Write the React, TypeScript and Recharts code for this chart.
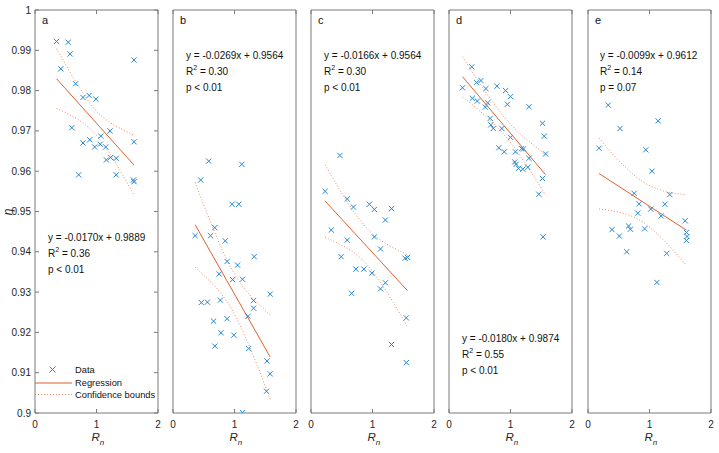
import React from 'react';
import { ComposedChart, Scatter, Line, XAxis, YAxis, ReferenceArea } from 'recharts';

// ---------- data ----------
const xTicks = [0, 1, 2];
const yTicks = [0.9, 0.91, 0.92, 0.93, 0.94, 0.95, 0.96, 0.97, 0.98, 0.99, 1];
const panelLetters = ['a', 'b', 'c', 'd', 'e'];

const ptsA: [number, number][] = [
  [0.35, 0.9922], [0.54, 0.992], [0.57, 0.9891], [0.42, 0.9854], [0.66, 0.9817],
  [0.78, 0.9783], [0.88, 0.9788], [0.99, 0.9779], [1.61, 0.9876], [0.6, 0.9708],
  [1.22, 0.97], [1.07, 0.9687], [0.78, 0.967], [0.89, 0.9678], [0.97, 0.966],
  [1.06, 0.9667], [1.15, 0.966], [1.16, 0.9628], [1.23, 0.9634], [1.32, 0.9632],
  [1.61, 0.9673], [0.71, 0.9591], [1.32, 0.9591], [1.6, 0.9578], [1.61, 0.9574],
];
const ptsB: [number, number][] = [
  [0.58, 0.9625], [1.12, 0.9617], [0.45, 0.9578], [0.96, 0.9518], [1.07, 0.9518],
  [0.68, 0.946], [0.36, 0.944], [0.61, 0.944], [0.85, 0.9427], [1.32, 0.9388],
  [0.88, 0.9376], [1.05, 0.9367], [0.75, 0.9345], [0.97, 0.9331], [1.13, 0.9332],
  [1.58, 0.9295], [0.46, 0.9274], [0.56, 0.9275], [0.77, 0.928], [1.31, 0.9279],
  [1.31, 0.926], [1.22, 0.924], [0.66, 0.9228], [0.88, 0.9234], [0.78, 0.9199],
  [0.99, 0.9193], [0.68, 0.9166], [1.23, 0.916], [1.53, 0.9129], [1.58, 0.9097],
  [1.52, 0.9054], [1.13, 0.9001],
];
const ptsC: [number, number][] = [
  [0.47, 0.9639], [0.23, 0.955], [0.59, 0.9531], [0.69, 0.9511], [0.95, 0.9518],
  [1.03, 0.9505], [1.31, 0.9507], [1.21, 0.9479], [0.33, 0.9454], [0.59, 0.9429],
  [1.03, 0.9437], [1.13, 0.9407], [0.49, 0.9388], [1.53, 0.9384], [1.57, 0.9386],
  [0.73, 0.9357], [0.86, 0.9357], [0.99, 0.9347], [1.21, 0.9323], [1.13, 0.9308],
  [0.66, 0.9297], [1.55, 0.9236], [1.31, 0.917], [1.55, 0.9125],
];
const ptsD: [number, number][] = [
  [0.37, 0.9859], [0.22, 0.9807], [0.45, 0.982], [0.52, 0.9825], [0.6, 0.9805],
  [0.78, 0.9811], [0.92, 0.98], [1.0, 0.9785], [0.38, 0.9781], [0.46, 0.9774],
  [0.63, 0.977], [0.95, 0.9766], [1.3, 0.976], [0.59, 0.9759], [1.52, 0.9719],
  [0.67, 0.9731], [0.68, 0.9715], [0.72, 0.9706], [0.86, 0.9706], [1.55, 0.9687],
  [1.0, 0.9684], [0.81, 0.9658], [0.9, 0.9648], [1.08, 0.9648], [1.18, 0.9656],
  [1.21, 0.9655], [1.3, 0.9632], [1.57, 0.9643], [1.07, 0.9623], [1.09, 0.9617],
  [1.13, 0.9607], [1.2, 0.9605], [1.28, 0.961], [1.52, 0.9582], [1.46, 0.9543],
  [1.53, 0.9437],
];
const ptsE: [number, number][] = [
  [0.33, 0.9764], [0.52, 0.9706], [1.14, 0.9725], [0.18, 0.9657], [0.94, 0.9653],
  [1.04, 0.96], [0.75, 0.9545], [1.33, 0.9542], [0.83, 0.9519], [1.25, 0.9518],
  [1.02, 0.9506], [0.81, 0.9496], [1.19, 0.9489], [1.58, 0.9477], [0.39, 0.9455],
  [0.51, 0.9439], [0.66, 0.9464], [0.69, 0.9456], [0.92, 0.9457], [0.63, 0.94],
  [1.28, 0.9396], [1.12, 0.9324], [1.6, 0.9448], [1.61, 0.9438], [1.6, 0.9428],
];

// regression end points
const regA: [number, number][] = [[0.35, 0.98295], [1.61, 0.96153]];
const regB: [number, number][] = [[0.36, 0.94672], [1.58, 0.9139]];
const regC: [number, number][] = [[0.23, 0.95258], [1.57, 0.93034]];
const regD: [number, number][] = [[0.22, 0.98344], [1.57, 0.95914]];
const regE: [number, number][] = [[0.18, 0.95942], [1.6, 0.94536]];

// confidence bounds
const bxA = [0.35, 0.55, 0.75, 0.98, 1.2, 1.4, 1.61];
const upA = [0.9904, 0.9851, 0.9801, 0.9752, 0.9723, 0.9705, 0.9689];
const loA = [0.9756, 0.9741, 0.9723, 0.9692, 0.9647, 0.9597, 0.9541];
const bxB = [0.36, 0.56, 0.76, 0.97, 1.17, 1.37, 1.58];
const upB = [0.9572, 0.9493, 0.9419, 0.9353, 0.9307, 0.9274, 0.9244];
const loB = [0.9362, 0.9333, 0.9301, 0.9253, 0.9191, 0.9118, 0.9034];
const bxC = [0.23, 0.45, 0.67, 0.9, 1.12, 1.34, 1.57];
const upC = [0.9616, 0.9558, 0.9505, 0.946, 0.943, 0.941, 0.9393];
const loC = [0.9436, 0.942, 0.9401, 0.937, 0.9326, 0.9274, 0.9213];
const bxD = [0.22, 0.45, 0.67, 0.9, 1.12, 1.35, 1.57];
const upD = [0.9884, 0.983, 0.978, 0.9734, 0.9698, 0.9668, 0.9641];
const loD = [0.9784, 0.9756, 0.9726, 0.969, 0.9646, 0.9594, 0.9541];
const bxE = [0.18, 0.42, 0.65, 0.89, 1.13, 1.36, 1.6];
const upE = [0.9682, 0.9639, 0.9604, 0.9574, 0.9556, 0.9546, 0.9542];
const loE = [0.9506, 0.9501, 0.9492, 0.9474, 0.9444, 0.9408, 0.9366];

const eqA = ['y = -0.0170x + 0.9889', '0.36', 'p < 0.01'];
const eqB = ['y = -0.0269x + 0.9564', '0.30', 'p < 0.01'];
const eqC = ['y = -0.0166x + 0.9564', '0.30', 'p < 0.01'];
const eqD = ['y = -0.0180x + 0.9874', '0.55', 'p < 0.01'];
const eqE = ['y = -0.0099x + 0.9612', '0.14', 'p = 0.07'];
const legendLabels = ['Data', 'Regression', 'Confidence bounds'];

// ---------- layout / style ----------
const FONT = '"Liberation Sans", Arial, Helvetica, sans-serif';
const PANEL_LEFTS = [35, 173, 311, 449, 588];
const PLOT_W = 123;
const PLOT_TOP = 10;
const PLOT_BOTTOM = 413;
const AXIS = '#7a7a7a';
const TXT = '#262626';
const BLUE = '#2586d4';
const ORANGE = '#e2602c';
const ORANGE_L = '#ee8a62';
const TL = 4;

const toPts = (a: [number, number][]) => a.map(([x, y]) => ({ x, y }));
const zipPts = (xs: number[], ys: number[]) => xs.map((x, i) => ({ x, y: ys[i] }));
const fmtY = (v: number) => String(Number(v.toFixed(2)));

const Cross = (props: any) => {
  const { cx, cy } = props;
  if (cx == null || cy == null) return null;
  const s = 2.6;
  return (
    <path
      d={`M${cx - s},${cy - s}L${cx + s},${cy + s}M${cx - s},${cy + s}L${cx + s},${cy - s}`}
      stroke={BLUE}
      strokeWidth={1}
      fill="none"
    />
  );
};

type PanelProps = {
  idx: number;
  pts: [number, number][];
  reg: [number, number][];
  bx: number[];
  up: number[];
  lo: number[];
};

function Panel({ idx, pts, reg, bx, up, lo }: PanelProps) {
  const showY = idx === 0;
  const plotX = showY ? 35 : 10;
  const W = plotX + PLOT_W + 8;
  const left = PANEL_LEFTS[idx] - plotX;
  const rx = plotX + PLOT_W;

  const LeftTick = (p: any) => {
    const { y, payload } = p;
    return (
      <g>
        <line x1={plotX} x2={plotX + TL} y1={y} y2={y} stroke={AXIS} strokeWidth={1} />
        <line x1={rx - TL} x2={rx} y1={y} y2={y} stroke={AXIS} strokeWidth={1} />
        {showY && (
          <text x={plotX - 4} y={y} dy={3.5} textAnchor="end" fontSize={10} fill={TXT} fontFamily={FONT}>
            {fmtY(payload.value)}
          </text>
        )}
      </g>
    );
  };
  const BottomTick = (p: any) => {
    const { x, payload } = p;
    return (
      <g>
        <line x1={x} x2={x} y1={PLOT_BOTTOM} y2={PLOT_BOTTOM - TL} stroke={AXIS} strokeWidth={1} />
        <line x1={x} x2={x} y1={PLOT_TOP} y2={PLOT_TOP + TL} stroke={AXIS} strokeWidth={1} />
        <text x={x} y={PLOT_BOTTOM + 15} textAnchor="middle" fontSize={10} fill={TXT} fontFamily={FONT}>
          {payload.value}
        </text>
      </g>
    );
  };

  return (
    <div style={{ position: 'absolute', left, top: 0 }}>
      <ComposedChart width={W} height={453} margin={{ top: PLOT_TOP, right: 8, bottom: 0, left: showY ? 0 : 10 }}>
        <XAxis type="number" dataKey="x" domain={[0, 2]} ticks={xTicks} interval={0}
          height={40} allowDataOverflow axisLine={false} tickLine={false} tick={<BottomTick />} />
        <YAxis type="number" domain={[0.9, 1]} ticks={yTicks} interval={0}
          width={showY ? 35 : 0} allowDataOverflow axisLine={false} tickLine={false} tick={<LeftTick />} />
        <ReferenceArea x1={0} x2={2} y1={0.9} y2={1} fill="none" fillOpacity={0} stroke={AXIS} strokeWidth={1} ifOverflow="visible" />
        <Line data={zipPts(bx, up)} dataKey="y" type="monotone" stroke={ORANGE_L} strokeWidth={1}
          strokeDasharray="1 2" dot={false} activeDot={false} isAnimationActive={false} />
        <Line data={zipPts(bx, lo)} dataKey="y" type="monotone" stroke={ORANGE_L} strokeWidth={1}
          strokeDasharray="1 2" dot={false} activeDot={false} isAnimationActive={false} />
        <Line data={toPts(reg)} dataKey="y" type="linear" stroke={ORANGE} strokeWidth={1}
          dot={false} activeDot={false} isAnimationActive={false} />
        <Scatter data={toPts(pts)} dataKey="y" shape={Cross} isAnimationActive={false} />
      </ComposedChart>
    </div>
  );
}

function Eq({ x, y, lines }: { x: number; y: number; lines: string[] }) {
  return (
    <g fontFamily={FONT} fontSize={10} fill="#111">
      <text x={x} y={y + 3.5}>{lines[0]}</text>
      <text x={x} y={y + 16 + 3.5}>
        R<tspan fontSize={7} dy={-4.5}>2</tspan>
        <tspan dy={4.5}>{` = ${lines[1]}`}</tspan>
      </text>
      <text x={x} y={y + 32 + 3.5}>{lines[2]}</text>
    </g>
  );
}

export default function App() {
  const panels = [
    { pts: ptsA, reg: regA, bx: bxA, up: upA, lo: loA },
    { pts: ptsB, reg: regB, bx: bxB, up: upB, lo: loB },
    { pts: ptsC, reg: regC, bx: bxC, up: upC, lo: loC },
    { pts: ptsD, reg: regD, bx: bxD, up: upD, lo: loD },
    { pts: ptsE, reg: regE, bx: bxE, up: upE, lo: loE },
  ];
  return (
    <div style={{ position: 'absolute', left: 0, top: 0, width: 719, height: 453, background: '#fff', overflow: 'hidden' }}>
      {panels.map((p, i) => (
        <Panel key={i} idx={i} {...p} />
      ))}
      <svg width={719} height={453} style={{ position: 'absolute', left: 0, top: 0, pointerEvents: 'none' }}>
        {panelLetters.map((l, i) => (
          <text key={l} x={PANEL_LEFTS[i] + 7} y={24} fontSize={11} fill="#111" fontFamily={FONT}>{l}</text>
        ))}
        <Eq x={48} y={237} lines={eqA} />
        <Eq x={186} y={55} lines={eqB} />
        <Eq x={324} y={55} lines={eqC} />
        <Eq x={462} y={338} lines={eqD} />
        <Eq x={600} y={55} lines={eqE} />
        {PANEL_LEFTS.map((l, i) => (
          <text key={i} x={l + PLOT_W / 2 - 5} y={441} fontSize={11.5} fill={TXT} fontFamily={FONT} fontStyle="italic">
            R<tspan fontSize={8} dy={4}>n</tspan>
          </text>
        ))}
        <text x={0} y={0} transform="translate(12,212) rotate(-90)" fontSize={12} fill={TXT} fontFamily={FONT}
          fontStyle="italic" textAnchor="middle">η</text>
        {/* legend */}
        <g fontFamily={FONT} fontSize={9.3} fill="#111">
          <path d="M49.5,366.5L55.5,372.5M49.5,372.5L55.5,366.5" stroke={BLUE} strokeWidth={1} />
          <text x={75} y={372.5}>{legendLabels[0]}</text>
          <line x1={35} x2={72} y1={383} y2={383} stroke={ORANGE} strokeWidth={1} />
          <text x={75} y={386}>{legendLabels[1]}</text>
          <line x1={35} x2={72} y1={394.5} y2={394.5} stroke={ORANGE_L} strokeWidth={1} strokeDasharray="1 2" />
          <text x={75} y={397.5}>{legendLabels[2]}</text>
        </g>
      </svg>
    </div>
  );
}
